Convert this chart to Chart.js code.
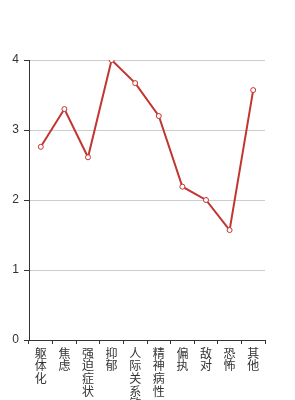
<!DOCTYPE html>
<html>
<head>
<meta charset="utf-8">
<script src="https://cdn.jsdelivr.net/npm/chart.js@4"></script>
<style>
  html, body { margin: 0; padding: 0; background: #fff; overflow: hidden; }
  #wrap { width: 295px; height: 400px; position: relative; }
</style>
</head>
<body>
<div id="wrap"><canvas id="chart"></canvas></div>
<script>
// 维度名称与得分
const categories = ['躯体化', '焦虑', '强迫症状', '抑郁', '人际关系敏感', '精神病性', '偏执', '敌对', '恐怖', '其他'];
const scores = [2.76, 3.30, 2.61, 4.00, 3.67, 3.20, 2.19, 2.00, 1.57, 3.57];
const yTicks = [0, 1, 2, 3, 4];

// 竖排文字：每个字一行
const verticalLabels = categories.map(c => c.split(''));

new Chart(document.getElementById('chart'), {
  type: 'line',
  data: {
    labels: verticalLabels,
    datasets: [{
      data: scores,
      borderColor: '#c23531',
      borderWidth: 2,
      pointRadius: 2.5,
      pointBorderWidth: 1,
      pointBackgroundColor: '#fff',
      pointBorderColor: '#c23531',
      tension: 0
    }]
  },
  options: {
    responsive: true,
    maintainAspectRatio: false,
    animation: false,
    layout: { padding: { top: 60, right: 30, left: 0, bottom: 0 } },
    plugins: { legend: { display: false }, tooltip: { enabled: false } },
    scales: {
      x: {
        offset: true,
        border: { color: '#333', width: 1 },
        grid: { drawOnChartArea: false, drawTicks: true, tickLength: 4, color: '#333', offset: true },
        ticks: {
          autoSkip: false,
          maxRotation: 0,
          padding: 3,
          color: '#333',
          font: { family: '"Noto Sans CJK SC", sans-serif', size: 12, lineHeight: 1.05 }
        },
        afterFit: s => { s.height = 60; }
      },
      y: {
        min: 0,
        max: 4,
        afterBuildTicks: s => { s.ticks = yTicks.map(v => ({ value: v })); },
        border: { color: '#333', width: 1 },
        grid: { color: '#ccc', tickLength: 5, tickColor: '#333' },
        ticks: {
          padding: 5,
          color: '#333',
          font: { family: '"Liberation Sans", sans-serif', size: 12 }
        },
        afterFit: s => { s.width = 29; }
      }
    }
  }
});
</script>
</body>
</html>
